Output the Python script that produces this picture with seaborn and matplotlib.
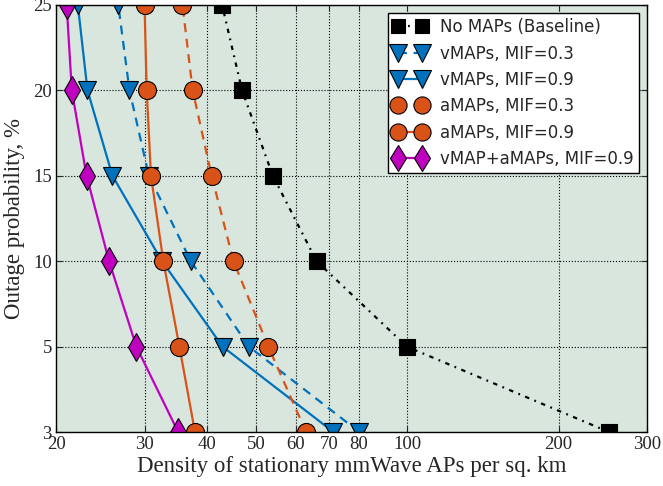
import numpy as np
import pandas as pd
import seaborn as sns
import matplotlib.pyplot as plt
from matplotlib.ticker import FixedLocator, NullFormatter, NullLocator

# outage probability levels (%), plotted at equally spaced positions
outage = [3, 5, 10, 15, 20, 25]

# density of APs per sq. km needed at each outage level
baseline = [252, 99.8, 66.0, 54.0, 46.9, 42.8]
vmap_03 = [80.3, 48.4, 37.1, 30.6, 28.0, 26.6]
vmap_09 = [71.3, 42.9, 32.5, 25.9, 23.1, 22.1]
amap_03 = [62.9, 52.9, 45.1, 40.8, 37.4, 35.7]
amap_09 = [37.8, 35.2, 32.7, 30.9, 30.3, 30.0]
vamap_09 = [35.0, 28.9, 25.5, 23.0, 21.5, 21.0]

labels = ['No MAPs (Baseline)', 'vMAPs, MIF=0.3', 'vMAPs, MIF=0.9',
          'aMAPs, MIF=0.3', 'aMAPs, MIF=0.9', 'vMAP+aMAPs, MIF=0.9']
series = [baseline, vmap_03, vmap_09, amap_03, amap_09, vamap_09]

xticks = [20, 30, 40, 50, 60, 70, 80, 100, 200, 300]

blue = '#0072BD'
orange = '#D95319'
magenta = '#BF00BF'
styles = [
    dict(color='black', ls=(0, (2, 2.5, 0.8, 2.5)), marker='s', ms=11),
    dict(color=blue, ls=(0, (4, 3)), marker='v', ms=13.5),
    dict(color=blue, ls='-', marker='v', ms=13.5),
    dict(color=orange, ls=(0, (4, 3)), marker='o', ms=13),
    dict(color=orange, ls='-', marker='o', ms=13),
    dict(color=magenta, ls='-', marker='d', ms=14),
]

pos = {v: i for i, v in enumerate(outage)}
rows = []
for lab, vals in zip(labels, series):
    for o, d in zip(outage, vals):
        rows.append({'scheme': lab, 'outage': o, 'pos': pos[o], 'density': d})
df = pd.DataFrame(rows)

sns.set_style('ticks')
plt.rcParams['font.family'] = ['Liberation Serif', 'DejaVu Serif']

fig = plt.figure(figsize=(6.63, 4.86), dpi=100)
ax = fig.add_axes([0.0845, 0.111, 0.8915, 0.879])
ax.set_facecolor('#D8E6DE')

for lab, st in zip(labels, styles):
    sub = df[df.scheme == lab]
    sns.lineplot(data=sub, x='density', y='pos', orient='y', sort=False,
                 ax=ax, color=st['color'], linestyle=st['ls'], linewidth=1.6,
                 marker=st['marker'], markersize=st['ms'],
                 markerfacecolor=st['color'], markeredgecolor='black',
                 markeredgewidth=0.8, label=lab)

ax.set_xscale('log')
ax.set_xlim(20, 300)
ax.set_ylim(0, len(outage) - 1)
ax.xaxis.set_major_locator(FixedLocator(xticks))
ax.xaxis.set_minor_locator(NullLocator())
ax.xaxis.set_minor_formatter(NullFormatter())
ax.set_xticklabels([str(t) for t in xticks])
ax.set_yticks(range(len(outage)))
ax.set_yticklabels([str(o) for o in outage])
ax.tick_params(direction='in', labelsize=13.5, top=True, right=True, length=4, pad=3)
ax.grid(True, color='black', linestyle=':', linewidth=0.8)

ax.set_xlabel('Density of stationary mmWave APs per sq. km', fontsize=16.5, labelpad=2)
ax.set_ylabel('Outage probability, %', fontsize=16.5, labelpad=6)
for s in ax.spines.values():
    s.set_linewidth(1.0)
    s.set_color('black')

leg = ax.legend(loc='upper right', numpoints=2, fancybox=False, framealpha=1,
                edgecolor='black', prop={'family': 'DejaVu Sans', 'size': 12},
                borderaxespad=0.5, borderpad=0.3, handlelength=2.0,
                handletextpad=0.8, labelspacing=0.5, markerscale=0.95)
leg.get_frame().set_linewidth(1.0)

fig.savefig('out.png', dpi=100)
